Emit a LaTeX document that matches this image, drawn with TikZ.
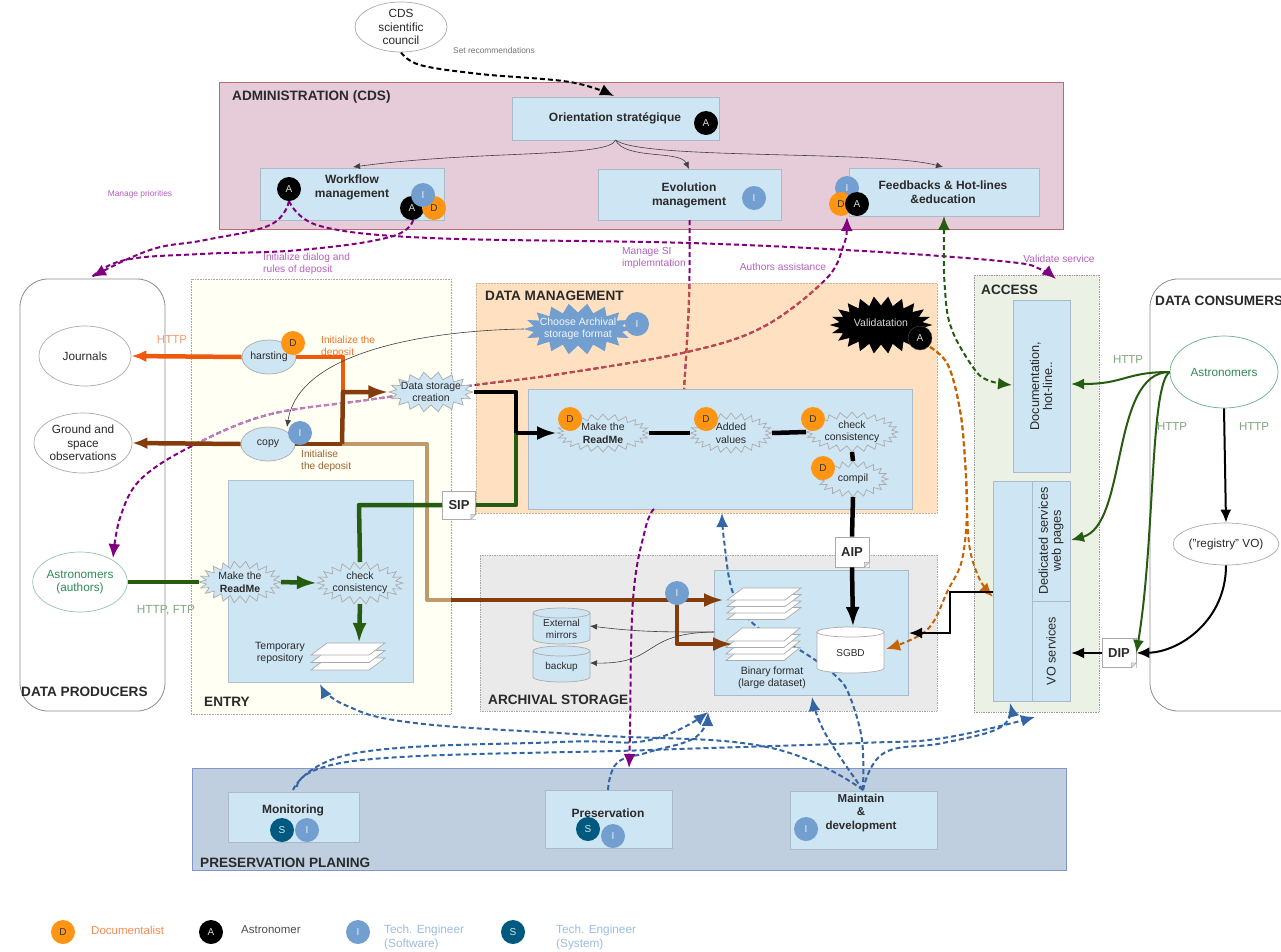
\documentclass[tikz,border=0pt]{standalone}
\usepackage{fontspec}
\setmainfont{Liberation Sans}
\usetikzlibrary{arrows.meta,shapes.geometric,backgrounds}
\pgfdeclarelayer{bg}\pgfdeclarelayer{mid}
\pgfsetlayers{bg,mid,main}
\definecolor{admF}{HTML}{E6CCD9}\definecolor{admD}{HTML}{B86B74}
\definecolor{bluF}{HTML}{CEE5F3}\definecolor{bluD}{HTML}{A9BBC8}
\definecolor{entF}{HTML}{FFFFF3}\definecolor{dmF}{HTML}{FFE0C0}
\definecolor{arcF}{HTML}{EAEAEA}\definecolor{accF}{HTML}{EBF2E5}
\definecolor{preF}{HTML}{BFCFE0}\definecolor{preD}{HTML}{8495C9}
\definecolor{pD}{HTML}{FF9512}\definecolor{pI}{HTML}{729FCF}\definecolor{pS}{HTML}{005A7F}
\definecolor{purp}{HTML}{800080}\definecolor{redd}{HTML}{C04A45}\definecolor{blu}{HTML}{3465A4}
\definecolor{grn}{HTML}{265C10}\definecolor{brn}{HTML}{843C0C}\definecolor{tann}{HTML}{C19A6B}
\definecolor{org}{HTML}{EE5A0A}\definecolor{dorg}{HTML}{C86400}\definecolor{lab}{HTML}{B55FC0}
\definecolor{txt}{HTML}{2A2A2A}\definecolor{edge}{HTML}{ABABAB}\definecolor{teal2}{HTML}{2E8B57}
\tikzset{
  fs/.style={font=\fontsize{10.5}{12.5}\selectfont,text=txt,align=center,inner sep=0pt},
  fl/.style={font=\fontsize{11.8}{13.5}\selectfont,text=txt,align=center,inner sep=0pt},
  fsb/.style={font=\bfseries\fontsize{12}{14}\selectfont,text=txt,align=center,inner sep=0pt},
  ttl/.style={font=\bfseries\fontsize{13.6}{15}\selectfont,text=txt,anchor=west,inner sep=0pt},
  lbl/.style={font=\fontsize{10.2}{12}\selectfont,text=lab,align=left,inner sep=0pt},
  side/.style={font=\fontsize{12.7}{13}\selectfont,text=txt,align=center,inner sep=0pt,rotate=90},
  bxs/.style={draw=bluD,fill=bluF,line width=.9pt},
  oval/.style={ellipse,draw=edge,fill=white,line width=.7pt,inner sep=0pt,minimum width=#1},
  psn/.style={circle,minimum size=24pt,inner sep=0pt,font=\fontsize{10}{12}\selectfont},
  pD/.style={psn,fill=pD,text=black!80},
  pI/.style={psn,fill=pI,text=white!85!pI},
  pA/.style={psn,fill=black,text=white!85!black},
  pS/.style={psn,fill=pS,text=white!85!pS},
  thk/.style={line width=4.5pt,draw=#1,line join=round},
  tip/.style={-{Latex[length=20pt,width=14pt]}},
  tipS/.style={-{Latex[length=15pt,width=12pt]}},
  thn/.style={draw=black!75,line width=.6pt,-{Latex[length=7pt,width=6pt]}},
  dsh/.style={line width=2pt,dash pattern=on 5pt off 3pt,draw=#1},
  dtip/.style={-{Latex[length=14pt,width=12pt]}},
  ddtip/.style={{Latex[length=14pt,width=12pt]}-{Latex[length=14pt,width=12pt]}},
  med/.style={line width=2pt,draw=#1,-{Latex[length=13pt,width=11pt]}},
  note/.style={draw=edge,fill=white,line width=.7pt,font=\bfseries\fontsize{13}{15}\selectfont,text=txt,inner sep=0pt},
}
\newcommand{\BX}[6]{\node[#1,anchor=north west,inner sep=0pt,outer sep=0pt,
  minimum width={(#4-#2)*1pt},minimum height={(#5-#3)*1pt}] (#6) at (#2,#3) {};}
\newcommand{\Stack}[6]{% x1 x2 ytop layerheight dy n
  \foreach \k in {#6,...,1}{
    \pgfmathsetmacro{\yy}{#3+(\k-1)*#5}
    \draw[draw=edge,fill=white,line width=.7pt] (#1+16,\yy) -- (#2,\yy) -- (#2-16,\yy+#4) -- (#1,\yy+#4) -- cycle;}}
\newcommand{\Cyl}[7]{% name x1 y1 x2 y2 fill text
  \draw[draw=edge,fill=#6,line width=.7pt] (#2,#3+5) -- (#2,#5-5) arc[start angle=180,end angle=360,x radius={(#4-#2)/2*1pt},y radius=5pt] -- (#4,#3+5) arc[start angle=0,end angle=180,x radius={(#4-#2)/2*1pt},y radius=5pt] -- cycle;
  \draw[draw=edge,line width=.7pt] (#2,#3+5) arc[start angle=180,end angle=360,x radius={(#4-#2)/2*1pt},y radius=5pt];
  \node[fs,font=\fontsize{10}{12.5}\selectfont] (#1) at ({(#2+#4)/2},{(#3+#5)/2+3}) {#7};}
% name cx cy rx ry points depth draw fill text-colour text
\newcommand{\Burst}[9]{\def\BurstA{#1}\def\BurstB{#2}\def\BurstC{#3}\def\BurstD{#4}\def\BurstE{#5}\def\BurstF{#6}\def\BurstG{#7}\def\BurstH{#8}\def\BurstI{#9}\BurstRest}
\newcommand{\BurstRest}[2]{%
  \draw[draw=\BurstH,fill=\BurstI,line width=.7pt,line join=miter]
    plot[domain=0:2*\BurstF,samples={2*\BurstF+1}]
    ({\BurstB+(\BurstD-\BurstG*mod(round(\x),2))*cos(\x*180/\BurstF)},{\BurstC+(\BurstE-\BurstG*mod(round(\x),2))*sin(\x*180/\BurstF)}) -- cycle;
  \node[ellipse,inner sep=0pt,outer sep=0pt,minimum width={2*\BurstD*1pt},minimum height={2*\BurstE*1pt},
    font=\fontsize{10.5}{12.5}\selectfont,text=#1,align=center] (\BurstA) at (\BurstB,\BurstC) {#2};}
\begin{document}
\begin{tikzpicture}[x=1pt,y=-1pt]
\useasboundingbox (0,0) rectangle (1281,951);
\clip (0,0) rectangle (1281,951);
\begin{pgfonlayer}{bg}
\BX{draw=admD,fill=admF,line width=1pt}{219}{82}{1063}{229}{adm}
\BX{bxs}{512}{97}{719}{140}{orient}
\BX{bxs}{260}{168}{444}{220}{workflow}
\BX{bxs}{598}{169}{781}{220}{evol}
\BX{bxs}{849}{168}{1039}{216}{feed}
\BX{draw=black!45,fill=white,line width=.8pt,rounded corners=28pt}{20}{279}{165}{711}{prod}
\BX{draw=black!35,fill=entF,densely dotted,line width=.6pt}{191}{279}{451}{714}{entry}
\BX{draw=dmF!80!black,fill=dmF,densely dotted,line width=.5pt}{476}{283}{937}{513}{dm}
\BX{bxs}{528}{389}{912}{509}{dmin}
\BX{bxs,draw=bluF!85!black}{228}{480}{413}{682}{entin}
\BX{draw=black!35,fill=arcF,densely dotted,line width=.7pt}{480}{555}{937}{711}{arch}
\BX{bxs}{714}{570}{908}{695}{arin}
\BX{draw=black!40,fill=accF,densely dotted,line width=.7pt}{974}{275}{1099}{712}{acc}
\BX{bxs}{1013}{300}{1070}{472}{doc}
\BX{bxs}{993}{481}{1032}{701}{acl}
\BX{bxs}{1032}{481}{1070}{601}{ded}
\BX{bxs}{1032}{601}{1070}{701}{vos}
\BX{draw=black!45,fill=white,line width=.8pt,rounded corners=28pt}{1150}{279}{1340}{711}{cons}
\BX{draw=preD,fill=preF,line width=1pt}{192}{768}{1066}{870}{pres}
\BX{bxs}{228}{792}{359}{842}{mon}
\BX{bxs}{545}{790}{672}{848}{prs}
\BX{bxs}{790}{791}{937}{849}{mai}
\end{pgfonlayer}
% titles
\node[ttl] (t1) at (232,97) {ADMINISTRATION (CDS)};
\node[ttl] (t2) at (485,296) {DATA MANAGEMENT};
\node[ttl] (t3) at (981,290) {ACCESS};
\node[ttl] (t4) at (1155,301) {DATA CONSUMERS};
\node[ttl] (t5) at (21,692) {DATA PRODUCERS};
\node[ttl] (t6) at (204,702) {ENTRY};
\node[ttl] (t7) at (488,700) {ARCHIVAL STORAGE};
\node[ttl] (t8) at (200,863) {PRESERVATION PLANING};
% box texts
\node[fsb] (o1) at (615,118) {Orientation stratégique};
\node[fsb] (o2) at (352,187) {Workflow\\management};
\node[fsb] (o3) at (689,195) {Evolution\\management};
\node[fsb] (o4) at (943,192) {Feedbacks \& Hot-lines\\\&education};
\node[fsb] (o5) at (293,810) {Monitoring};
\node[fsb] (o6) at (608,813) {Preservation};
\node[fsb,font=\bfseries\fontsize{11.5}{13.5}\selectfont] (o7) at (861,813) {Maintain\\\&\\development};
\node[side] (d1) at (1041,386) {Documentation,\\hot-line..};
\node[side] (d2) at (1051,541) {Dedicated services\\web pages};
\node[side] (d3) at (1051,651) {VO services};
% ovals
\node[oval=92pt,minimum height=42pt,fl] (cds) at (401,27) {CDS\\scientific\\council};
\node[oval=92pt,minimum height=60pt,fl] (journals) at (85,356) {Journals};
\node[oval=98pt,minimum height=60pt,fl] (ground) at (83,443) {Ground and\\space\\observations};
\node[oval=93pt,minimum height=60pt,fl,draw=teal2!50,text=teal2] (authors) at (80,582) {Astronomers\\(authors)};
\node[oval=108pt,minimum height=72pt,fl,draw=teal2!70,text=teal2] (astro) at (1224,372) {Astronomers};
\node[oval=92pt,minimum height=42pt,fl] (registry) at (1226,544) {("registry" VO)};
\node[oval=54pt,minimum height=34pt,fs,fill=bluF] (harst) at (269,357) {harsting};
\node[oval=54pt,minimum height=34pt,fs,fill=bluF] (copy) at (268,444) {copy};
% bursts
\Burst{store}{431}{392}{42}{20}{18}{7}{edge}{bluF}{txt}{Data storage\\creation}
\Burst{choose}{578}{329}{53}{25}{18}{9}{pI}{pI}{white!90!pI}{Choose Archival\\storage format}
\Burst{valid}{881}{325}{50}{28}{22}{9}{black}{black}{white!85!black}{\raisebox{5pt}{Validatation}}
\Burst{make2}{603}{433}{46}{19}{24}{6}{edge}{bluF}{txt}{Make the\\\textbf{ReadMe}}
\Burst{added}{731}{433}{41}{20}{24}{6}{edge}{bluF}{txt}{Added\\values}
\Burst{check2}{852}{432}{46}{20}{24}{6}{edge}{bluF}{txt}{check\\consistency}
\Burst{compil}{853}{479}{35}{18}{20}{6}{edge}{bluF}{txt}{compil}
\Burst{make1}{240}{582}{41}{21}{22}{7}{edge}{bluF}{txt}{Make the\\\textbf{ReadMe}}
\Burst{check1}{360}{583}{43}{21}{22}{7}{edge}{bluF}{txt}{check\\consistency}
% free ends of the dashed connectors
\coordinate (e1) at (92,277);
\coordinate (e3) at (1056,279);
\coordinate (e4) at (1012,385);
\coordinate (e5) at (993,597);
\coordinate (e6) at (886,649);
\coordinate (e7) at (629,768);
\coordinate (e8) at (722,513);
\coordinate (e9) at (708,712);
\coordinate (e10) at (1010,703);
\coordinate (e11) at (1035,717);
\coordinate (e12) at (320,684);
\coordinate (e13) at (812,697);
\coordinate (aA) at (289,201);
\coordinate (aB) at (413,220);
\coordinate (aC) at (847,217);
\coordinate (aE) at (113,558);
\coordinate (vA) at (930,347);
\coordinate (top1) at (293,790);
\coordinate (top2) at (297,787);
\coordinate (top3) at (608,790);
\coordinate (top4) at (863,790);
\begin{pgfonlayer}{mid}
\draw[dsh=black,dtip] plot[smooth,tension=.6] coordinates {(cds.south) (420,65) (480,74) (570,82) (614,96)};
\draw[dsh=blu,dtip] plot[smooth,tension=.7] coordinates {(top1) (356,753) (560,742) (650,740) (e9)};
\draw[dsh=blu,dtip] plot[smooth,tension=.7] coordinates {(top2) (362,760) (650,750) (860,743) (943,738) (e11)};
\draw[dsh=blu,dtip] plot[smooth,tension=.7] coordinates {(top3) (617,763) (649,752) (696,737) (e9)};
\draw[dsh=blu,dtip] plot[smooth,tension=.7] coordinates {(top4) (767,747) (590,735) (415,723) (345,705) (e12)};
\draw[dsh=blu,dtip] plot[smooth,tension=.7] coordinates {(top4) (825,733) (e13)};
\draw[dsh=blu,dtip] plot[smooth,tension=.6] coordinates {(top4) (862,740) (850,697) (837,677) (803,652) (757,627) (733,593) (724,540) (e8)};
\draw[dsh=blu,dtip] plot[smooth,tension=.7] coordinates {(top4) (884,753) (943,743) (1001,727) (e10)};
\draw[dsh=purp,dtip] plot[smooth,tension=.7] coordinates {(aA) (270,225) (205,240) (150,250) (e1)};
\draw[dsh=purp] plot[smooth,tension=.7] coordinates {(aB) (390,237) (300,250) (200,254) (125,260) (e1)};
\draw[dsh=purp,dtip] plot[smooth,tension=.6] coordinates {(aA) (320,226) (430,238) (690,243) (880,252) (1010,262) (1040,269) (e3)};
\draw[dsh=purp] plot[smooth,tension=.6] coordinates {(evol.south) (689,300) (684,389)};
\begin{scope}\clip (dm.north west) rectangle (dm.south east);
\draw[dsh=redd] plot[smooth,tension=.6] coordinates {(evol.south) (689,300) (684,389)};
\end{scope}
\draw[dsh=purp,ddtip] plot[smooth,tension=.6] coordinates {(aC) (843,247) (825,280) (763,327) (687,352) (560,374) (475,385) (367,400) (267,415) (190,447) (140,480) (120,518) (aE)};
\begin{scope}\clip (dm.north west) rectangle (dm.south east);
\draw[dsh=redd,ddtip] plot[smooth,tension=.6] coordinates {(aC) (843,247) (825,280) (763,327) (687,352) (560,374) (475,385) (367,400) (267,415) (190,447) (140,480) (120,518) (aE)};
\end{scope}
\begin{scope}\clip (entry.north west) rectangle (451,445);
\draw[dsh=purp!50!white,ddtip] plot[smooth,tension=.6] coordinates {(aC) (843,247) (825,280) (763,327) (687,352) (560,374) (475,385) (367,400) (267,415) (190,447) (140,480) (120,518) (aE)};
\end{scope}
\draw[dsh=grn,ddtip] plot[smooth,tension=.6] coordinates {(feed.south) (945,290) (952,330) (975,370) (990,381) (e4)};
\draw[dsh=dorg,dtip] plot[smooth,tension=.6] coordinates {(vA) (948,365) (960,410) (965,460) (967,510) (970,550) (980,580) (e5)};
\draw[dsh=dorg,dtip] plot[smooth,tension=.6] coordinates {(vA) (948,365) (960,410) (965,460) (967,510) (962,560) (948,590) (927,630) (e6)};
\draw[dsh=purp,dtip] plot[smooth,tension=.7] coordinates {(654,509) (645,530) (633,600) (630,730) (e7)};
\end{pgfonlayer}
% stacks and cylinders
\Stack{311}{385}{643}{12}{7.5}{3}
\Stack{727}{801}{588}{12}{6.5}{4}
\Stack{726}{800}{628}{13}{6.5}{4}
\Cyl{sgbd}{817}{627}{884}{673}{white}{SGBD}
\Cyl{mirrors}{533}{608}{590}{644}{bluF}{External\\mirrors}
\Cyl{backup}{533}{646}{590}{682}{bluF}{backup}
\node[fs] (temp) at (280,653) {Temporary\\repository};
\node[fs] (binary) at (772,678) {Binary format\\(large dataset)};
% SIP AIP DIP
\node[note,minimum width=33pt,minimum height=28pt] (sip) at (459,505) {SIP};
\node[note,minimum width=34pt,minimum height=30pt] (aip) at (852,552) {AIP};
\node[note,minimum width=34pt,minimum height=29pt] (dip) at (1119,653) {DIP};
\foreach \nn in {sip,aip,dip}{
  \fill[white] ([xshift=-5pt]\nn.south east) -- (\nn.south east) -- ([yshift=5pt]\nn.south east) -- cycle;
  \draw[edge,fill=edge!40,line width=.6pt] ([xshift=-5pt]\nn.south east) -- ([yshift=5pt]\nn.south east) -- ([xshift=-5pt,yshift=5pt]\nn.south east) -- cycle;}
% thick connectors
\coordinate (j0) at (343,357);
\coordinate (j1) at (343,392);
\coordinate (j2) at (342,444);
\coordinate (j3) at (427,444);
\coordinate (j4) at (427,600);
\coordinate (j5) at (451,600);
\coordinate (s1) at (516,392);
\coordinate (s2) at (516,433);
\coordinate (g1) at (359,505);
\coordinate (g2) at (516,505);
\coordinate (stk1) at (359,643);
\coordinate (stk2) at (724,600);
\coordinate (stk3) at (733,644);
\coordinate (b1) at (677,600);
\coordinate (b2) at (677,644);
\coordinate (sgt) at (853,627);
\draw[thk=org,tipS] (harst.west) -- (journals.east);
\draw[thk=org] (harst.east) -- (j0) -- (j1);
\draw[thk=tann] (j2) -- (j3) -- (j4) -- (j5);
\draw[thk=brn,tipS] (copy.west) -- (ground.east);
\draw[thk=brn] (copy.east) -- (j2);
\draw[thk=brn,tip] (j2) -- (j1) -- (store.west);
\draw[thk=brn,tip] (j5) -- (stk2);
\draw[thk=brn,tip] (b1) -- (b2) -- (stk3);
\draw[thk=grn] (authors.east) -- (make1.west);
\draw[thk=grn,tip] (make1.east) -- (check1.west);
\draw[thk=grn,tip] (check1.south) -- (stk1);
\draw[thk=grn] (check1.north) -- (g1) -- (sip.west);
\draw[thk=grn] (sip.east) -- (g2) -- (s2);
\draw[thk=black] (store.east) -- (s1) -- (s2);
\draw[thk=black,tip] (s2) -- (make2.west);
\draw[thk=black] (make2.east) -- (added.west);
\draw[thk=black] (added.east) -- (check2.west);
\draw[thk=black] (check2.south) -- (compil.north);
\draw[thk=black] (compil.south) -- (aip.north);
\draw[thk=black,tip] (aip.south) -- (sgt);
\coordinate (bk0) at (993,592);
\coordinate (bk1) at (950,592);
\coordinate (bk2) at (950,633);
\coordinate (bk3) at (909,633);
\draw[med=black] (bk0) -- (bk1) -- (bk2) -- (bk3);
\coordinate (dv) at (1071,653);
\draw[med=black,line width=2.5pt] (dip.west) -- (dv);
% thin connectors
\coordinate (m0) at (714,632);
\coordinate (m1) at (590,626);
\coordinate (m2) at (590,663);
\draw[thn] (orient.south) .. controls (610,158) and (480,150) .. (353,167);
\draw[thn] (orient.south) .. controls (625,160) and (680,150) .. (689,169);
\draw[thn] (orient.south) .. controls (640,160) and (880,150) .. (943,167);
\draw[thn] (choose.west) .. controls (450,330) and (300,345) .. (287,427);
\draw[thn] (m0) .. controls (660,632) and (640,632) .. (m1);
\draw[thn] (m0) .. controls (640,633) and (660,664) .. (m2);
% right side
\coordinate (r1) at (1071,384);
\coordinate (r2) at (1071,540);
\draw[med=grn] (astro.west) .. controls (1125,372) and (1125,384) .. (r1);
\draw[med=grn] (astro.west) .. controls (1110,372) and (1128,525) .. (r2);
\draw[med=grn] (astro.west) .. controls (1150,385) and (1155,540) .. (dip.east);
\draw[med=black] (astro.south) -- (registry.north);
\draw[med=black] (registry.south) .. controls (1226,620) and (1180,652) .. (dip.east);
% labels
\node[lbl,font=\fontsize{8.4}{10}\selectfont,text=black!55] (l1) at (494,50) {Set recommendations};
\node[lbl,font=\fontsize{8.4}{10}\selectfont] (l2) at (140,194) {Manage priorities};
\node[lbl,anchor=west] (l3) at (263,264) {Initialize dialog and\\rules of deposit};
\node[lbl,anchor=west] (l4) at (622,258) {Manage SI\\implemntation};
\node[lbl] (l5) at (783,267) {Authors assistance};
\node[lbl] (l6) at (1059,259) {Validate service};
\node[lbl,font=\fontsize{11.5}{13}\selectfont,text=org!60] (l7) at (172,340) {HTTP};
\node[lbl,anchor=west,text=org!85] (l8) at (321,347) {Initialize the\\deposit};
\node[lbl,anchor=west,text=brn!60!tann] (l9) at (301,461) {Initialise\\the deposit};
\node[lbl,font=\fontsize{11.8}{13}\selectfont,text=green!30!black!50] (l10) at (166,610) {HTTP, FTP};
\node[lbl,font=\fontsize{11.5}{13}\selectfont,text=green!30!black!50] (l11) at (1128,360) {HTTP};
\node[lbl,font=\fontsize{11.5}{13}\selectfont,text=green!30!black!50] (l12) at (1172,427) {HTTP};
\node[lbl,font=\fontsize{11.5}{13}\selectfont,text=green!30!black!50] (l13) at (1254,427) {HTTP};
% persons
\node[pA] (c1) at (706,123) {A};
\node[pA] (c2) at (289,189) {A};
\node[pA] (c3) at (412,208) {A};
\node[pD] (c4) at (434,208) {D};
\node[pI] (c5) at (423,195) {I};
\node[pI] (c6) at (754,198) {I};
\node[pI] (c7) at (847,188) {I};
\node[pD] (c8) at (841,204) {D};
\node[pA] (c9) at (857,204) {A};
\node[pD] (c10) at (293,343) {D};
\node[pI] (c11) at (300,433) {I};
\node[pI] (c12) at (637,324) {I};
\node[pA,draw=black!70!white] (c13) at (920,338) {A};
\node[pD] (c14) at (570,419) {D};
\node[pD] (c15) at (706,419) {D};
\node[pD] (c16) at (813,419) {D};
\node[pD] (c17) at (823,468) {D};
\node[pI] (c18) at (677,593) {I};
\node[pS] (c19) at (282,830) {S};
\node[pI] (c20) at (307,830) {I};
\node[pS] (c21) at (588,829) {S};
\node[pI] (c22) at (613,836) {I};
\node[pI] (c23) at (806,829) {I};
% legend
\node[pD] (k1) at (63,932) {D};
\node[pA] (k2) at (211,932) {A};
\node[pI] (k3) at (358,932) {I};
\node[pS] (k4) at (513,932) {S};
\node[lbl,anchor=west,font=\fontsize{11.5}{13}\selectfont,text=org!70] (k5) at (91,930) {Documentalist};
\node[lbl,anchor=west,font=\fontsize{11.5}{13}\selectfont,text=black!70] (k6) at (241,930) {Astronomer};
\node[lbl,anchor=west,font=\fontsize{11.8}{14}\selectfont,text=pI!70] (k7) at (384,937) {Tech. Engineer\\(Software)};
\node[lbl,anchor=west,font=\fontsize{11.8}{14}\selectfont,text=pI!70] (k8) at (556,937) {Tech. Engineer\\(System)};
\end{tikzpicture}
\end{document}
